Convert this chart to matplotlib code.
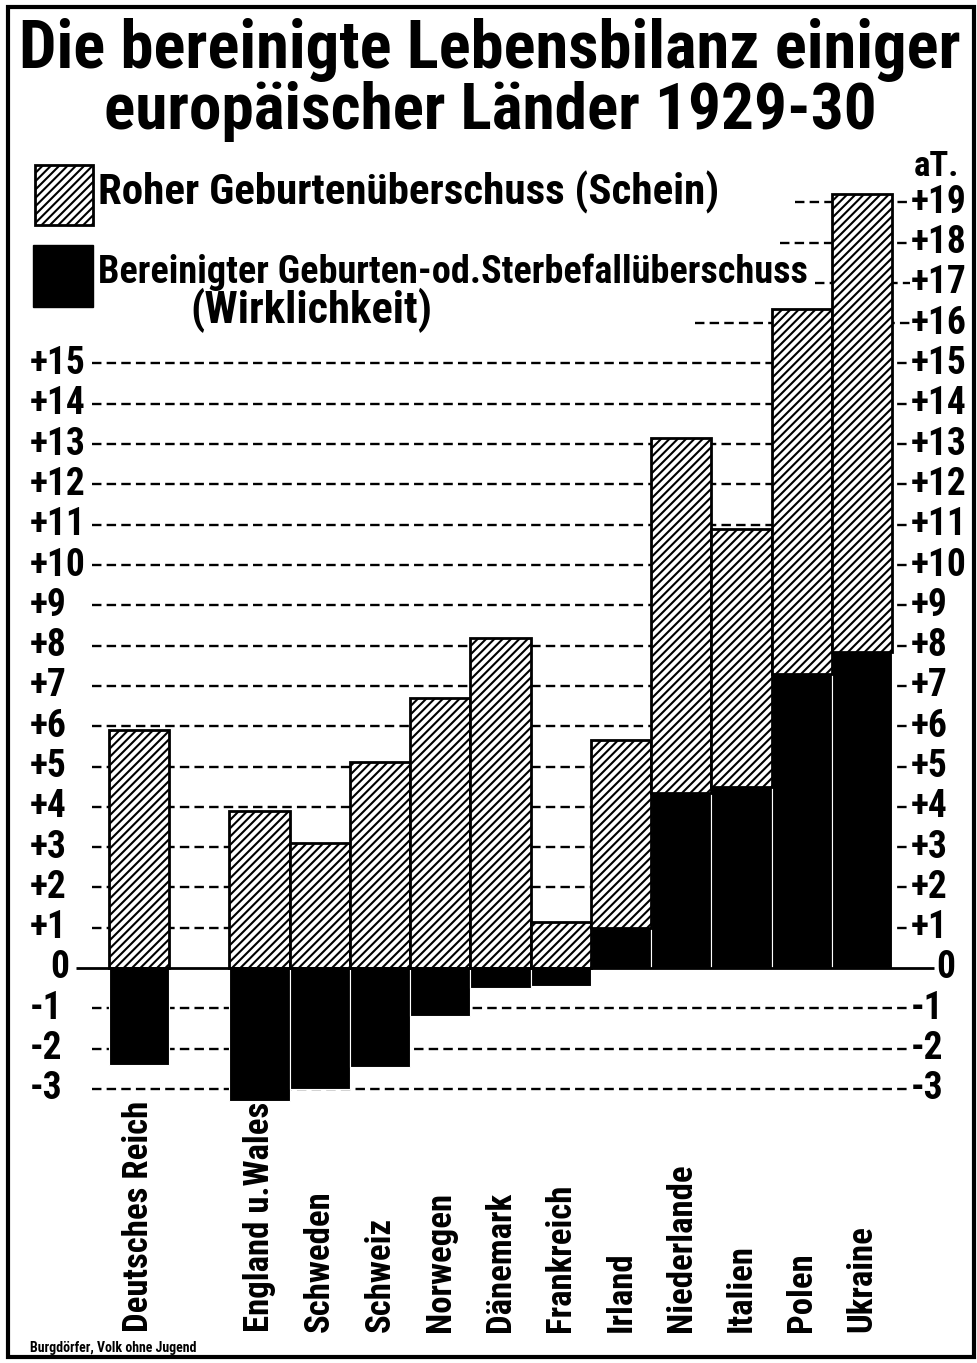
import matplotlib
matplotlib.use("Agg")
import matplotlib.pyplot as plt
from matplotlib import font_manager
from matplotlib.patches import Rectangle

# ---- data (per mille, "aT." = auf Tausend) ----
countries = ["Deutsches Reich", "England u.Wales", "Schweden", "Schweiz", "Norwegen",
             "Dänemark", "Frankreich", "Irland", "Niederlande", "Italien", "Polen", "Ukraine"]
slots = [0, 2, 3, 4, 5, 6, 7, 8, 9, 10, 11, 12]          # slot 1 left empty
raw_surplus = [5.9, 3.9, 3.1, 5.1, 6.7, 8.2, 1.15, 5.65, 13.15, 10.9, 16.35, 19.2]
adj_surplus = [-2.4, -3.3, -3.0, -2.45, -1.2, -0.5, -0.45, 1.0, 4.35, 4.5, 7.3, 7.85]

left_ticks = list(range(15, -4, -1))
right_ticks = list(range(19, -4, -1))
tick_text = {v: ("+%d" % v if v > 0 else "%d" % v) for v in right_ticks}


def pick(names):
    for n in names:
        try:
            font_manager.findfont(n, fallback_to_default=False)
            return n
        except ValueError:
            pass
    return "DejaVu Sans"


FONT = pick(["Liberation Sans Narrow", "DejaVu Sans Condensed", "Roboto Condensed",
             "Liberation Sans"])
plt.rcParams["font.family"] = [FONT, "DejaVu Sans"]
plt.rcParams["font.weight"] = "bold"
plt.rcParams["hatch.linewidth"] = 1.5

W, H = 977, 1363
X0, DX = 139, 60.25      # pixel centre of slot 0, pixels per slot
Y0, DY = 968, 40.3       # pixel row of zero, pixels per unit


def px(x):
    return (x - X0) / DX


def py(y):
    return (Y0 - y) / DY


fig = plt.figure(figsize=(W / 100, H / 100), dpi=100)
ax = fig.add_axes([0, 0, 1, 1])
ax.set_xlim(px(0), px(W))
ax.set_ylim(py(H), py(0))
ax.axis("off")

# --- dashed guide lines ---
dash = (0, (4, 2.2))
for v in left_ticks:
    if v == 0:
        continue
    ax.hlines(v, px(92), px(910), colors="k", lw=1.7, linestyles=dash, zorder=1)
upper_start = {16: 695, 17: 815, 18: 780, 19: 795}
for v, xs in upper_start.items():
    ax.hlines(v, px(xs), px(910), colors="k", lw=1.7, linestyles=dash, zorder=1)
ax.hlines(0, px(76), px(934), colors="k", lw=2, zorder=4)

# --- bars ---
hatch_bottom = [max(a, 0) for a in adj_surplus]
hatch_height = [r - b for r, b in zip(raw_surplus, hatch_bottom)]
ax.bar(slots, adj_surplus, width=1.0, color="black", edgecolor="white", lw=0.8, zorder=3)
ax.bar(slots, hatch_height, bottom=hatch_bottom, width=1.0, color="white",
       edgecolor="black", hatch="////", lw=2, zorder=3)

# --- tick labels ---
for v in left_ticks:
    ax.text(px(30 if v != 0 else 50), v, tick_text[v], fontsize=27, ha="left",
            va="center", zorder=5)
for v in right_ticks:
    ax.text(px(911 if v != 0 else 936), v, tick_text[v], fontsize=27, ha="left",
            va="center", zorder=5)
ax.text(px(914), py(166), "aT.", fontsize=25, ha="left", va="center")

# --- country labels ---
for s, name in zip(slots, countries):
    ax.text(s, py(1332), name, rotation=90, fontsize=25, ha="center", va="bottom")

# --- title ---
fig.text(490 / W, 1 - 50 / H, "Die bereinigte Lebensbilanz einiger", fontsize=48,
         ha="center", va="center")
fig.text(490 / W, 1 - 112 / H, "europäischer Länder 1929-30", fontsize=47,
         ha="center", va="center")

# --- legend ---
fig.patches.append(Rectangle((35 / W, 1 - 225 / H), 58 / W, 60 / H, transform=fig.transFigure,
                             fc="white", ec="black", hatch="////", lw=2))
fig.patches.append(Rectangle((33 / W, 1 - 307 / H), 60 / W, 62 / H, transform=fig.transFigure,
                             fc="black", ec="black", lw=1))
fig.text(98 / W, 1 - 192 / H, "Roher Geburtenüberschuss (Schein)", fontsize=31,
         ha="left", va="center")
fig.text(98 / W, 1 - 272 / H, "Bereinigter Geburten-od.Sterbefallüberschuss", fontsize=27.5,
         ha="left", va="center")
fig.text(190 / W, 1 - 310 / H, "(Wirklichkeit)", fontsize=32, ha="left", va="center")

fig.text(30 / W, 1 - 1348 / H, "Burgdörfer, Volk ohne Jugend", fontsize=10,
         ha="left", va="center")

# --- frame ---
fig.patches.append(Rectangle((8 / W, 1 - 1357 / H), 966 / W, 1350 / H,
                             transform=fig.transFigure, fc="none", ec="black", lw=3))

fig.savefig("out.png", dpi=100, facecolor="white")
